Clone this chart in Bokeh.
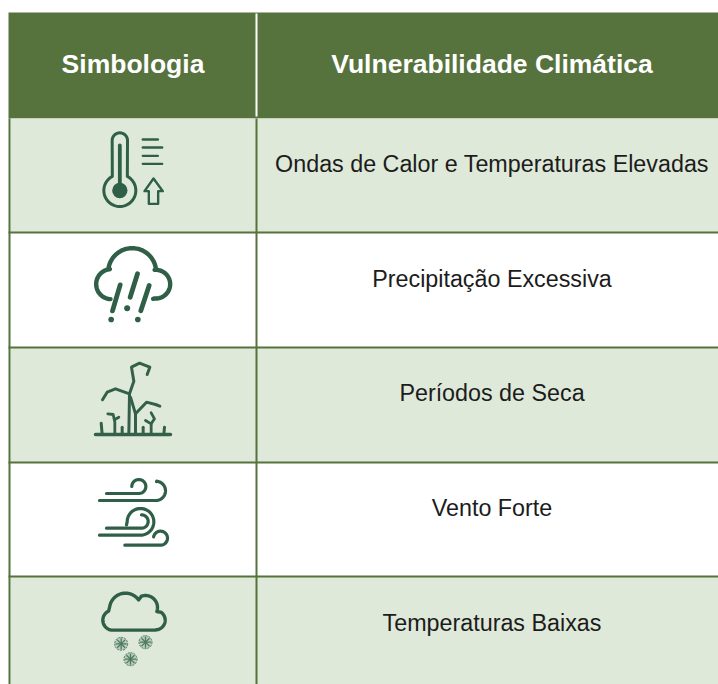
import numpy as np
from bokeh.plotting import figure
from bokeh.models import Range1d
from bokeh.core.properties import value
from bokeh.embed import file_html
from bokeh.resources import INLINE

HEADERS = ["Simbologia", "Vulnerabilidade Climática"]
ROWS = ["Ondas de Calor e Temperaturas Elevadas", "Precipitação Excessiva",
        "Períodos de Seca", "Vento Forte", "Temperaturas Baixas"]
ROW_TOP = [118, 232, 347, 462, 576]
ROW_BOTTOM = [232, 347, 462, 576, 684]
ROW_TEXT_Y = [163, 278, 392, 507, 622]
COL_HEAD_X = [132.5, 491.5]
BODY_X = 491.5

GREEN = "#56723d"
LIGHT = "#dfe9d9"
ICON = "#305f47"
SNOW = "#4d7a62"


def arc(cx, cy, r, a0, a1, n=40):
    t = np.radians(np.linspace(a0, a1, n))
    return list(cx + r * np.cos(t)), list(cy + r * np.sin(t))


def seg(*pts):
    return [q[0] for q in pts], [q[1] for q in pts]


def join(*parts):
    xs, ys = [], []
    for a, b in parts:
        xs += list(a)
        ys += list(b)
    return xs, ys


# Icon strokes: (xs, ys, width), coordinates in 1/3 px from the icon's origin
THERMO = [
    join(arc(118, 210, 48, -62, 242), arc(118, 60, 23, 180, 360)) + (3.0,),
    seg((118, 75), (118, 205)) + (3.8,),
    seg((187, 57), (232, 57)) + (2.4,),
    seg((187, 81), (245, 81)) + (2.4,),
    seg((187, 106), (232, 106)) + (2.4,),
    seg((187, 130), (245, 130)) + (2.4,),
    seg((205, 250), (205, 212), (192, 212), (219, 174), (247, 212), (233, 212), (233, 250), (205, 250)) + (2.4,),
]
THERMO[0] = (THERMO[0][0] + [THERMO[0][0][0]], THERMO[0][1] + [THERMO[0][1][0]], 3.0)
THERMO_DOTS = [(118, 210, 23)]

RAIN = [
    join(seg((218, 190)), arc(226, 146, 43, 95, -95), arc(155, 110, 72, -8, -172), arc(92, 146, 45, -95, -265), seg((90, 191))) + (4.4,),
    seg((119, 148), (96, 226)) + (4.8,),
    seg((171, 115), (149, 185)) + (4.8,),
    seg((206, 150), (181, 226)) + (4.8,),
]
RAIN_DOTS = [(140, 218, 9), (92, 252, 8.5), (172, 252, 8.5)]

DROUGHT = [
    seg((45, 252), (270, 252)) + (3.4,),
    seg((62, 218), (65, 252)) + (3.0,),
    seg((125, 230), (125, 252)) + (3.0,),
    seg((188, 230), (188, 252)) + (3.0,),
    seg((252, 230), (250, 252)) + (3.0,),
    seg((145, 252), (147, 130), (160, 92), (153, 50), (177, 38), (208, 50), (200, 72)) + (3.0,),
    seg((147, 130), (105, 115), (80, 125), (66, 148)) + (3.0,),
    seg((165, 252), (165, 190), (150, 140)) + (3.0,),
    seg((165, 190), (198, 155), (225, 162), (238, 167)) + (3.0,),
    seg((103, 252), (103, 215), (98, 192), (82, 190)) + (2.8,),
    seg((103, 207), (115, 200)) + (2.8,),
    seg((212, 252), (212, 220), (195, 210)) + (2.8,),
    seg((212, 220), (222, 205), (212, 187)) + (2.8,),
]

WIND = [
    join(seg((78, 84), (175, 84)), arc(175, 63, 21, 90, -180)) + (3.2,),
    join(seg((57, 105), (225, 105)), arc(226, 76, 29, 90, -85), seg((228, 48))) + (3.2,),
    join(seg((78, 188), (183, 188)), arc(183, 168, 20, 90, -90)) + (3.2,),
    join(seg((57, 209), (180, 209)), arc(180, 169, 40, 90, -180), seg((138, 178))) + (3.2,),
    join(seg((133, 239), (240, 239)), arc(240, 218, 21, 90, -170)) + (3.2,),
]

CLOUD = [
    join(seg((98, 155), (225, 155)), arc(225, 125, 29, 90, -55), arc(195, 87, 36, 20, -110), arc(135, 92, 48, -35, -170), arc(97, 125, 30, -115, -270), seg((98, 155))) + (3.4,),
]
FLAKES = [(122, 196), (195, 191), (150, 242)]

ICONS = [
    (80, 120, THERMO, THERMO_DOTS, ICON),
    (80, 235, RAIN, RAIN_DOTS, ICON),
    (80, 350, DROUGHT, [], "#34604a"),
    (80, 465, WIND, [], ICON),
    (80, 578, CLOUD, [], ICON),
]

p = figure(width=718, height=684, output_backend="svg", toolbar_location=None,
           x_range=Range1d(0, 718), y_range=Range1d(684, 0), min_border=0,
           outline_line_color=None, background_fill_color="white", border_fill_color="white")
p.axis.visible = False
p.grid.visible = False

# header
p.quad(left=[8], right=[718], top=[12], bottom=[118], fill_color=GREEN, line_color=None)
# row fills
for i in (0, 2, 4):
    p.quad(left=[10], right=[718], top=[ROW_TOP[i]], bottom=[ROW_BOTTOM[i]], fill_color=LIGHT, line_color=None)
# row rules
for y in ROW_TOP[1:]:
    p.quad(left=[8], right=[718], top=[y - 1], bottom=[y + 1], fill_color=GREEN, line_color=None)
# verticals
p.quad(left=[8], right=[10], top=[118], bottom=[684], fill_color=GREEN, line_color=None)
p.quad(left=[255], right=[257], top=[118], bottom=[684], fill_color=GREEN, line_color=None)
p.quad(left=[255], right=[257], top=[13], bottom=[116], fill_color="white", line_color=None)

for (ox, oy, strokes, dots, col) in ICONS:
    for xs, ys, w in strokes:
        p.line([ox + v / 3 for v in xs], [oy + v / 3 for v in ys], line_color=col, line_width=w,
               line_cap="round", line_join="round")
    for cx, cy, r in dots:
        p.ellipse(x=[ox + cx / 3], y=[oy + cy / 3], width=[2 * r / 3], height=[2 * r / 3], fill_color=col, line_color=None)

# snowflakes
for cx, cy in FLAKES:
    X, Y = 80 + cx / 3, 578 + cy / 3
    p.ellipse(x=[X], y=[Y], width=[13], height=[13], fill_color=SNOW, fill_alpha=0.25, line_color=SNOW, line_width=1.0, line_dash="2 1")
    for a in (0, 45, 90, 135):
        dx, dy = 5.6 * np.cos(np.radians(a)), 5.6 * np.sin(np.radians(a))
        p.line([X - dx, X + dx], [Y - dy, Y + dy], line_color=SNOW, line_width=1.3)

p.text(x=COL_HEAD_X, y=[63.5, 63.5], text=HEADERS, text_color="white", text_font=value("Liberation Sans"),
       text_font_style="bold", text_font_size="26.5px", text_align="center", text_baseline="middle")
p.text(x=[BODY_X] * 5, y=ROW_TEXT_Y, text=ROWS, text_color="#1c1c1c", text_font=value("Liberation Sans"),
       text_font_size="23.3px", text_align="center", text_baseline="middle")

open("out.html", "w").write(file_html(p, INLINE))
